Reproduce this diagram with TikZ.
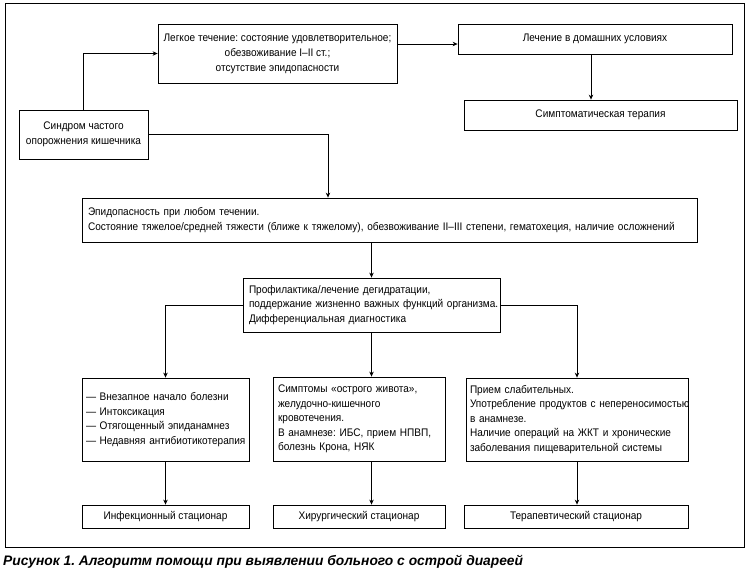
\documentclass[tikz,border=0pt]{standalone}
\usepackage{fontspec}
\setmainfont{Liberation Sans}
\newfontfamily\boxfont[FakeStretch=0.915]{Liberation Sans}
\newfontfamily\capfont{Liberation Sans}
\usetikzlibrary{arrows.meta}
\frenchspacing
\newcommand\oneline[1]{\mbox{#1}}
\begin{document}
\begin{tikzpicture}[x=1pt,y=-1pt,
  box/.style={draw, line width=0.8pt, inner ysep=0pt, font=\boxfont\fontsize{11}{14.5}\selectfont},
  arr/.style={line width=0.8pt, -{Stealth[length=5pt,width=4.5pt]}},
  ln/.style={line width=0.8pt}]
\useasboundingbox (0,0) rectangle (750,574);
\draw[ln] (5,3) rectangle (744,547);

\node[box, minimum width=239pt, minimum height=59pt, inner xsep=2pt, align=center,
  font=\boxfont\fontsize{11}{15}\selectfont] (light) at (277.5,53.5)
  {Легкое течение: состояние удовлетворительное;\\обезвоживание I–II ст.;\\отсутствие эпидопасности};
\node[box, minimum width=274pt, minimum height=30pt, align=center] (home) at (595,39)
  {Лечение в домашних условиях};
\node[box, minimum width=273pt, minimum height=30pt, align=center] (sympt) at (600.5,115)
  {Симптоматическая терапия};
\node[box, minimum width=129pt, minimum height=49pt, align=center] (synd) at (83.5,134.5)
  {Синдром частого\\опорожнения кишечника};
\node[box, text width=603pt, inner xsep=6pt, minimum height=44pt, align=left] (epid) at (389.5,220)
  {\oneline{Эпидопасность при любом течении.}\\\oneline{Состояние тяжелое/средней тяжести (ближе к тяжелому), обезвоживание II–III степени, гематохеция, наличие осложнений}};
\node[box, text width=245pt, inner xsep=6pt, minimum height=54pt, align=left] (proph) at (371.5,305)
  {\oneline{Профилактика/лечение дегидратации,}\\\oneline{поддержание жизненно важных функций организма.}\\\oneline{Дифференциальная диагностика}};
\node[box, text width=159pt, inner xsep=4pt, minimum height=83pt, align=left] (inf) at (165.5,419.5)
  {\oneline{— Внезапное начало болезни}\\\oneline{— Интоксикация}\\\oneline{— Отягощенный эпиданамнез}\\\oneline{— Недавняя антибиотикотерапия}};
\node[box, text width=162pt, inner xsep=5pt, minimum height=84pt, align=left] (surg) at (359,419)
  {\oneline{Симптомы «острого живота»,}\\\oneline{желудочно-кишечного}\\\oneline{кровотечения.}\\\oneline{В анамнезе: ИБС, прием НПВП,}\\\oneline{болезнь Крона, НЯК}};
\node[box, text width=214pt, inner xsep=4pt, minimum height=83pt, align=left] (ther) at (577,419.5)
  {\oneline{Прием слабительных.}\\\oneline{Употребление продуктов с непереносимостью}\\\oneline{в анамнезе.}\\\oneline{Наличие операций на ЖКТ и хронические}\\\oneline{заболевания пищеварительной системы}};
\node[box, minimum width=167pt, minimum height=23pt, align=center] (fin1) at (165.5,516.5)
  {Инфекционный стационар};
\node[box, minimum width=172pt, minimum height=23pt, align=center] (fin2) at (359,516.5)
  {Хирургический стационар};
\node[box, minimum width=224pt, minimum height=23pt, align=center] (fin3) at (576,516.5)
  {Терапевтический стационар};

\node[anchor=base west, inner sep=0pt, font=\capfont\bfseries\itshape\fontsize{13.8}{15}\selectfont] (cap) at (3,565)
  {Рисунок 1. Алгоритм помощи при выявлении больного с острой диареей};

% connectors
\draw[arr] (synd.north) |- (light.west);
\coordinate (hj) at ([yshift=-5pt]home.west);
\draw[arr] (light.east |- hj) -- (hj);
\coordinate (hs) at ([xshift=-4pt]home.south);
\draw[arr] (hs) -- (hs |- sympt.north);
\coordinate (et) at ([xshift=-61.5pt]epid.north);
\draw[arr] (synd.east) -| (et);
\draw[arr] (epid.south -| proph.north) -- (proph.north);
\draw[arr] (proph.west) -| (inf.north);
\draw[arr] (proph.east) -| (ther.north);
\draw[arr] (proph.south) -- (proph.south |- surg.north);
\draw[arr] (inf.south) -- (fin1.north);
\coordinate (ss) at (surg.south -| proph.south);
\draw[arr] (ss) -- (ss |- fin2.north);
\draw[arr] (ther.south) -- (ther.south |- fin3.north);
\end{tikzpicture}
\end{document}
